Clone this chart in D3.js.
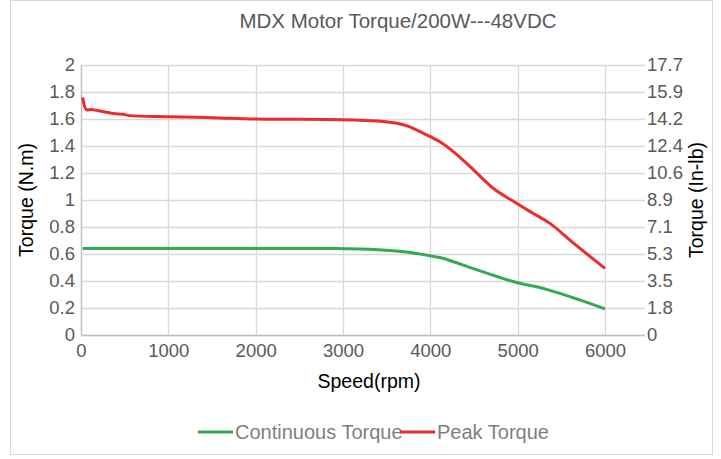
<!DOCTYPE html>
<html><head><meta charset="utf-8">
<script src="https://cdn.jsdelivr.net/npm/d3@7/dist/d3.min.js"></script>
<style>body{margin:0;background:#fff;}svg{display:block;font-family:"Liberation Sans",Arial,sans-serif;}</style>
</head><body>
<svg id="c" width="721" height="459"></svg>
<script>
const title = "MDX Motor Torque/200W---48VDC";
const xTicks = [0,1000,2000,3000,4000,5000,6000];
const yTicks = [0,0.2,0.4,0.6,0.8,1,1.2,1.4,1.6,1.8,2];
const yTickLabels = ["0","0.2","0.4","0.6","0.8","1","1.2","1.4","1.6","1.8","2"];
const y2TickLabels = ["0","1.8","3.5","5.3","7.1","8.9","10.6","12.4","14.2","15.9","17.7"];
const contSpeed = [20,1000,2000,2900,3400,3700,4070,4150,4500,4800,5000,5330,5710,6000];
const contTorque = [0.64,0.64,0.64,0.64,0.632,0.617,0.578,0.567,0.49,0.425,0.387,0.338,0.26,0.193];
const peakSpeed = [20,60,120,370,480,560,1000,1500,2000,3000,3400,3600,3750,3920,4100,4260,4500,4720,4950,5180,5370,5640,6000];
const peakTorque = [1.76,1.67,1.67,1.64,1.635,1.625,1.617,1.61,1.60,1.595,1.585,1.57,1.545,1.494,1.435,1.36,1.22,1.087,0.99,0.90,0.827,0.68,0.494];
const series = [
  {name:"Continuous Torque", color:"#34a853", xs:contSpeed, ys:contTorque},
  {name:"Peak Torque", color:"#ee2b2b", xs:peakSpeed, ys:peakTorque}
];

const svg = d3.select("#c");
const L = 81, R = 645, T = 65, B = 335;
const x = d3.scaleLinear().domain([0, 6000]).range([L, 605]);
const y = d3.scaleLinear().domain([0, 2]).range([B, T]);
const grid = "#d9d9d9", tickCol = "#595959";
const tickFont = 18.5;

svg.append("rect").attr("x",10.5).attr("y",0.5).attr("width",702).attr("height",454)
  .attr("fill","#fff").attr("stroke","#d9d9d9");

svg.append("g").selectAll("line").data(yTicks).join("line")
  .attr("x1",L).attr("x2",R).attr("y1",d=>Math.round(y(d))+0.5).attr("y2",d=>Math.round(y(d))+0.5)
  .attr("stroke",grid).attr("stroke-width",1.3);
svg.append("g").selectAll("line").data(xTicks).join("line")
  .attr("x1",d=>Math.round(x(d))+0.5).attr("x2",d=>Math.round(x(d))+0.5).attr("y1",T).attr("y2",B)
  .attr("stroke",grid).attr("stroke-width",1.3);

const ax = d3.axisBottom(x).tickValues(xTicks).tickSize(0).tickPadding(9).tickFormat(d3.format("d"));
const gx = svg.append("g").attr("transform",`translate(0,${B})`).call(ax);
gx.select(".domain").remove();
gx.selectAll("text").attr("fill",tickCol).attr("font-size",tickFont).attr("font-family","Liberation Sans, Arial");

const ay = d3.axisLeft(y).tickValues(yTicks).tickSize(0).tickPadding(6).tickFormat((d,i)=>yTickLabels[i]);
const gy = svg.append("g").attr("transform",`translate(${L},0)`).call(ay);
gy.select(".domain").remove();
gy.selectAll("text").attr("fill",tickCol).attr("font-size",tickFont).attr("font-family","Liberation Sans, Arial");

const ay2 = d3.axisRight(y).tickValues(yTicks).tickSize(0).tickPadding(2).tickFormat((d,i)=>y2TickLabels[i]);
const gy2 = svg.append("g").attr("transform",`translate(${R},0)`).call(ay2);
gy2.select(".domain").remove();
gy2.selectAll("text").attr("fill",tickCol).attr("font-size",tickFont).attr("font-family","Liberation Sans, Arial");

svg.append("line").attr("x1",L).attr("x2",R).attr("y1",B+0.5).attr("y2",B+0.5).attr("stroke","#bfbfbf").attr("stroke-width",1.3);
svg.append("line").attr("x1",L+0.5).attr("x2",L+0.5).attr("y1",T).attr("y2",B).attr("stroke","#bfbfbf").attr("stroke-width",1.3);

const line = d3.line().x(d=>x(d[0])).y(d=>y(d[1])).curve(d3.curveCatmullRom.alpha(0.5));
series.forEach(s=>{
  const pts = s.xs.map((v,i)=>[v,s.ys[i]]);
  svg.append("path").datum(pts).attr("d",line).attr("fill","none")
    .attr("stroke",s.color).attr("stroke-width",3).attr("stroke-linejoin","round");
});

svg.append("text").attr("x",398).attr("y",28).attr("text-anchor","middle")
  .attr("font-size",20.5).attr("fill","#595959").text(title);
svg.append("text").attr("x",369).attr("y",388).attr("text-anchor","middle")
  .attr("font-size",19.5).attr("fill","#000").text("Speed(rpm)");
svg.append("text").attr("transform","translate(33,200) rotate(-90)").attr("text-anchor","middle")
  .attr("font-size",19.5).attr("fill","#000").text("Torque (N.m)");
svg.append("text").attr("transform","translate(703,200) rotate(-90)").attr("text-anchor","middle")
  .attr("font-size",19.5).attr("fill","#000").text("Torque (In-lb)");

const lg = svg.append("g");
const legendX = [198, 400];
series.forEach((s,i)=>{
  lg.append("line").attr("x1",legendX[i]).attr("x2",legendX[i]+35).attr("y1",432).attr("y2",432)
    .attr("stroke",s.color).attr("stroke-width",3);
  lg.append("text").attr("x",legendX[i]+37).attr("y",439).attr("font-size",20).attr("fill","#7f7f7f").text(s.name);
});
</script>
</body></html>
